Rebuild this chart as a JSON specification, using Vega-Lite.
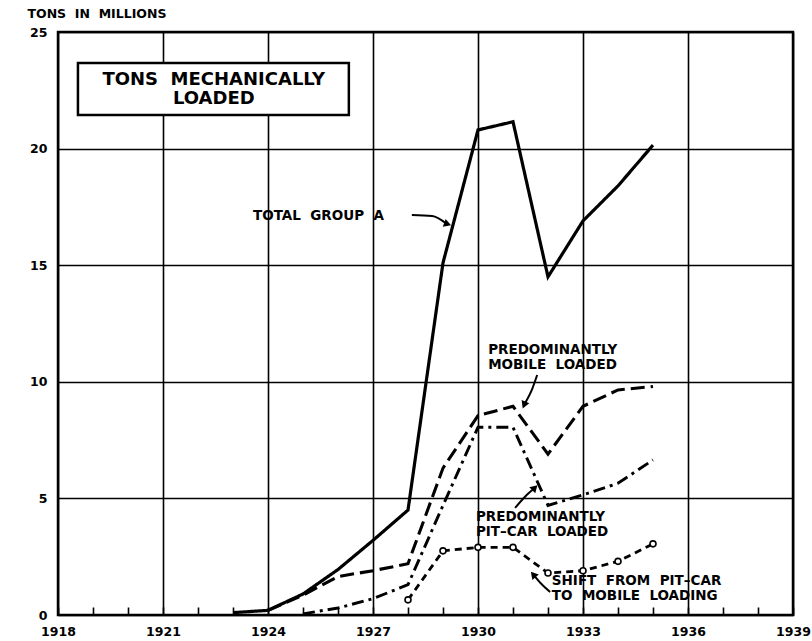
{
  "$schema": "https://vega.github.io/schema/vega-lite/v6.json",
  "width": 735,
  "height": 583,
  "autosize": {"type": "none"},
  "padding": {"left": 58, "top": 32, "right": 19, "bottom": 26},
  "background": "white",
  "config": {
    "view": {"stroke": "black", "strokeWidth": 2.5},
    "font": "DejaVu Sans",
    "axis": {
      "labelFont": "DejaVu Sans",
      "labelFontWeight": "bold",
      "labelFontSize": 12.5,
      "labelColor": "black",
      "gridColor": "black",
      "gridWidth": 1.6,
      "domain": false
    }
  },
  "resolve": {"axis": {"x": "independent"}},
  "datasets": {
    "series": [
      {"series": "Total Group A", "year": 1923, "tons": 0.1},
      {"series": "Total Group A", "year": 1924, "tons": 0.2},
      {"series": "Total Group A", "year": 1925, "tons": 0.9},
      {"series": "Total Group A", "year": 1926, "tons": 1.95},
      {"series": "Total Group A", "year": 1927, "tons": 3.2},
      {"series": "Total Group A", "year": 1928, "tons": 4.5},
      {"series": "Total Group A", "year": 1929, "tons": 15.1},
      {"series": "Total Group A", "year": 1930, "tons": 20.8},
      {"series": "Total Group A", "year": 1931, "tons": 21.15},
      {"series": "Total Group A", "year": 1932, "tons": 14.5},
      {"series": "Total Group A", "year": 1933, "tons": 16.9},
      {"series": "Total Group A", "year": 1934, "tons": 18.4},
      {"series": "Total Group A", "year": 1935, "tons": 20.15},
      {"series": "Predominantly mobile loaded", "year": 1924, "tons": 0.2},
      {"series": "Predominantly mobile loaded", "year": 1925, "tons": 0.85},
      {"series": "Predominantly mobile loaded", "year": 1926, "tons": 1.65},
      {"series": "Predominantly mobile loaded", "year": 1927, "tons": 1.9},
      {"series": "Predominantly mobile loaded", "year": 1928, "tons": 2.2},
      {"series": "Predominantly mobile loaded", "year": 1929, "tons": 6.3},
      {"series": "Predominantly mobile loaded", "year": 1930, "tons": 8.55},
      {"series": "Predominantly mobile loaded", "year": 1931, "tons": 8.95},
      {"series": "Predominantly mobile loaded", "year": 1932, "tons": 6.9},
      {"series": "Predominantly mobile loaded", "year": 1933, "tons": 8.95},
      {"series": "Predominantly mobile loaded", "year": 1934, "tons": 9.65},
      {"series": "Predominantly mobile loaded", "year": 1935, "tons": 9.8},
      {"series": "Predominantly pit-car loaded", "year": 1925, "tons": 0.05},
      {"series": "Predominantly pit-car loaded", "year": 1926, "tons": 0.3},
      {"series": "Predominantly pit-car loaded", "year": 1927, "tons": 0.7},
      {"series": "Predominantly pit-car loaded", "year": 1928, "tons": 1.3},
      {"series": "Predominantly pit-car loaded", "year": 1929, "tons": 4.7},
      {"series": "Predominantly pit-car loaded", "year": 1930, "tons": 8.05},
      {"series": "Predominantly pit-car loaded", "year": 1931, "tons": 8.05},
      {"series": "Predominantly pit-car loaded", "year": 1932, "tons": 4.7},
      {"series": "Predominantly pit-car loaded", "year": 1933, "tons": 5.15},
      {"series": "Predominantly pit-car loaded", "year": 1934, "tons": 5.65},
      {"series": "Predominantly pit-car loaded", "year": 1935, "tons": 6.65},
      {"series": "Shift from pit-car to mobile loading", "year": 1928, "tons": 0.65},
      {"series": "Shift from pit-car to mobile loading", "year": 1929, "tons": 2.75},
      {"series": "Shift from pit-car to mobile loading", "year": 1930, "tons": 2.9},
      {"series": "Shift from pit-car to mobile loading", "year": 1931, "tons": 2.9},
      {"series": "Shift from pit-car to mobile loading", "year": 1932, "tons": 1.8},
      {"series": "Shift from pit-car to mobile loading", "year": 1933, "tons": 1.9},
      {"series": "Shift from pit-car to mobile loading", "year": 1934, "tons": 2.3},
      {"series": "Shift from pit-car to mobile loading", "year": 1935, "tons": 3.05}
    ],
    "labels": [
      {"text": "TOTAL\u00a0\u00a0GROUP\u00a0\u00a0A", "x": 1923.57, "y": 17.1},
      {"text": "PREDOMINANTLY", "x": 1930.29, "y": 11.36},
      {"text": "MOBILE\u00a0\u00a0LOADED", "x": 1930.29, "y": 10.72},
      {"text": "PREDOMINANTLY", "x": 1929.94, "y": 4.2},
      {"text": "PIT–CAR\u00a0\u00a0LOADED", "x": 1929.94, "y": 3.56},
      {"text": "SHIFT\u00a0\u00a0FROM\u00a0\u00a0PIT–CAR", "x": 1932.11, "y": 1.45},
      {"text": "TO\u00a0\u00a0MOBILE\u00a0\u00a0LOADING", "x": 1932.11, "y": 0.8}
    ],
    "titlebox": [
      {"x": 1918.57, "x2": 1926.31, "y": 23.67, "y2": 21.44}
    ],
    "titletext": [
      {"text": "TONS\u00a0\u00a0MECHANICALLY", "x": 1922.45, "y": 22.94},
      {"text": "LOADED", "x": 1922.45, "y": 22.13}
    ],
    "arrows": [
      {"id": "total", "order": 1, "x": 1928.11, "y": 17.15},
      {"id": "total", "order": 2, "x": 1928.69, "y": 17.11},
      {"id": "total", "order": 3, "x": 1929.1, "y": 16.78},
      {"id": "mobile", "order": 1, "x": 1931.69, "y": 10.29},
      {"id": "mobile", "order": 2, "x": 1931.55, "y": 9.7},
      {"id": "mobile", "order": 3, "x": 1931.33, "y": 9.05},
      {"id": "pitcar", "order": 1, "x": 1931.06, "y": 4.59},
      {"id": "pitcar", "order": 2, "x": 1931.35, "y": 5.08},
      {"id": "pitcar", "order": 3, "x": 1931.6, "y": 5.42},
      {"id": "shift", "order": 1, "x": 1932.06, "y": 0.99},
      {"id": "shift", "order": 2, "x": 1931.8, "y": 1.35},
      {"id": "shift", "order": 3, "x": 1931.6, "y": 1.7}
    ]
  },
  "layer": [
    {
      "data": {"name": "series"},
      "mark": {"type": "line", "color": "black", "strokeJoin": "miter", "strokeCap": "butt"},
      "encoding": {
        "x": {
          "field": "year", "type": "quantitative",
          "scale": {"domain": [1918, 1939], "nice": false, "zero": false},
          "axis": {
            "title": null,
            "values": [1918, 1921, 1924, 1927, 1930, 1933, 1936, 1939],
            "format": "d",
            "ticks": false,
            "labelPadding": 10,
            "labelFlush": false,
            "labelOverlap": false
          }
        },
        "y": {
          "field": "tons", "type": "quantitative",
          "scale": {"domain": [0, 25], "nice": false},
          "axis": {
            "values": [0, 5, 10, 15, 20, 25],
            "ticks": false,
            "labelPadding": 11,
            "title": "TONS\u00a0\u00a0IN\u00a0\u00a0MILLIONS",
            "titleAngle": 0,
            "titleAlign": "left",
            "titleBaseline": "alphabetic",
            "titleX": -31,
            "titleY": -15,
            "titleFont": "DejaVu Sans",
            "titleFontWeight": "bold",
            "titleFontSize": 12.5,
            "titleColor": "black"
          }
        },
        "detail": {"field": "series"},
        "strokeDash": {
          "field": "series", "type": "nominal", "legend": null,
          "scale": {
            "domain": ["Total Group A", "Predominantly mobile loaded", "Predominantly pit-car loaded", "Shift from pit-car to mobile loading"],
            "range": [[1, 0], [14, 6], [12, 5, 3, 5], [7, 5]]
          }
        },
        "strokeWidth": {
          "field": "series", "type": "nominal", "legend": null,
          "scale": {
            "domain": ["Total Group A", "Predominantly mobile loaded", "Predominantly pit-car loaded", "Shift from pit-car to mobile loading"],
            "range": [3.2, 2.8, 2.6, 2.2]
          }
        }
      }
    },
    {
      "data": {"name": "series"},
      "transform": [{"filter": "datum.series == 'Shift from pit-car to mobile loading'"}],
      "mark": {"type": "point", "shape": "circle", "filled": true, "fill": "white", "opacity": 1, "stroke": "black", "strokeWidth": 1.6, "size": 36},
      "encoding": {
        "x": {
          "field": "year", "type": "quantitative",
          "axis": {
            "orient": "bottom",
            "offset": -8,
            "title": null,
            "values": [1918,1919,1920,1921,1922,1923,1924,1925,1926,1927,1928,1929,1930,1931,1932,1933,1934,1935,1936,1937,1938,1939],
            "labels": false,
            "grid": false,
            "ticks": true,
            "tickSize": 8,
            "tickColor": "black",
            "tickWidth": 1.6
          }
        },
        "y": {"field": "tons", "type": "quantitative"}
      }
    },
    {
      "data": {"name": "titlebox"},
      "mark": {"type": "rect", "fill": "white", "stroke": "black", "strokeWidth": 2.5},
      "encoding": {
        "x": {"field": "x", "type": "quantitative", "axis": null},
        "x2": {"field": "x2"},
        "y": {"field": "y", "type": "quantitative"},
        "y2": {"field": "y2"}
      }
    },
    {
      "data": {"name": "titletext"},
      "mark": {"type": "text", "font": "DejaVu Sans", "fontWeight": "bold", "fontSize": 18, "align": "center", "baseline": "middle", "color": "black"},
      "encoding": {
        "x": {"field": "x", "type": "quantitative", "axis": null},
        "y": {"field": "y", "type": "quantitative"},
        "text": {"field": "text"}
      }
    },
    {
      "data": {"name": "labels"},
      "mark": {"type": "text", "font": "DejaVu Sans", "fontWeight": "bold", "fontSize": 13.5, "align": "left", "baseline": "middle", "color": "black"},
      "encoding": {
        "x": {"field": "x", "type": "quantitative", "axis": null},
        "y": {"field": "y", "type": "quantitative"},
        "text": {"field": "text"}
      }
    },
    {
      "data": {"name": "arrows"},
      "mark": {"type": "line", "color": "black", "strokeWidth": 2, "interpolate": "monotone"},
      "encoding": {
        "x": {"field": "x", "type": "quantitative", "axis": null},
        "y": {"field": "y", "type": "quantitative"},
        "detail": {"field": "id"},
        "order": {"field": "order"}
      }
    },
    {
      "data": {"name": "arrows"},
      "transform": [{"filter": "datum.id == 'total' && datum.order == 3"}],
      "mark": {"type": "point", "shape": "triangle", "filled": true, "color": "black", "opacity": 1, "size": 70, "angle": 110},
      "encoding": {"x": {"field": "x", "type": "quantitative", "axis": null}, "y": {"field": "y", "type": "quantitative"}}
    },
    {
      "data": {"name": "arrows"},
      "transform": [{"filter": "datum.id == 'mobile' && datum.order == 3"}],
      "mark": {"type": "point", "shape": "triangle", "filled": true, "color": "black", "opacity": 1, "size": 70, "angle": 203},
      "encoding": {"x": {"field": "x", "type": "quantitative", "axis": null}, "y": {"field": "y", "type": "quantitative"}}
    },
    {
      "data": {"name": "arrows"},
      "transform": [{"filter": "datum.id == 'pitcar' && datum.order == 3"}],
      "mark": {"type": "point", "shape": "triangle", "filled": true, "color": "black", "opacity": 1, "size": 70, "angle": 45},
      "encoding": {"x": {"field": "x", "type": "quantitative", "axis": null}, "y": {"field": "y", "type": "quantitative"}}
    },
    {
      "data": {"name": "arrows"},
      "transform": [{"filter": "datum.id == 'shift' && datum.order == 3"}],
      "mark": {"type": "point", "shape": "triangle", "filled": true, "color": "black", "opacity": 1, "size": 70, "angle": 320},
      "encoding": {"x": {"field": "x", "type": "quantitative", "axis": null}, "y": {"field": "y", "type": "quantitative"}}
    }
  ]
}
